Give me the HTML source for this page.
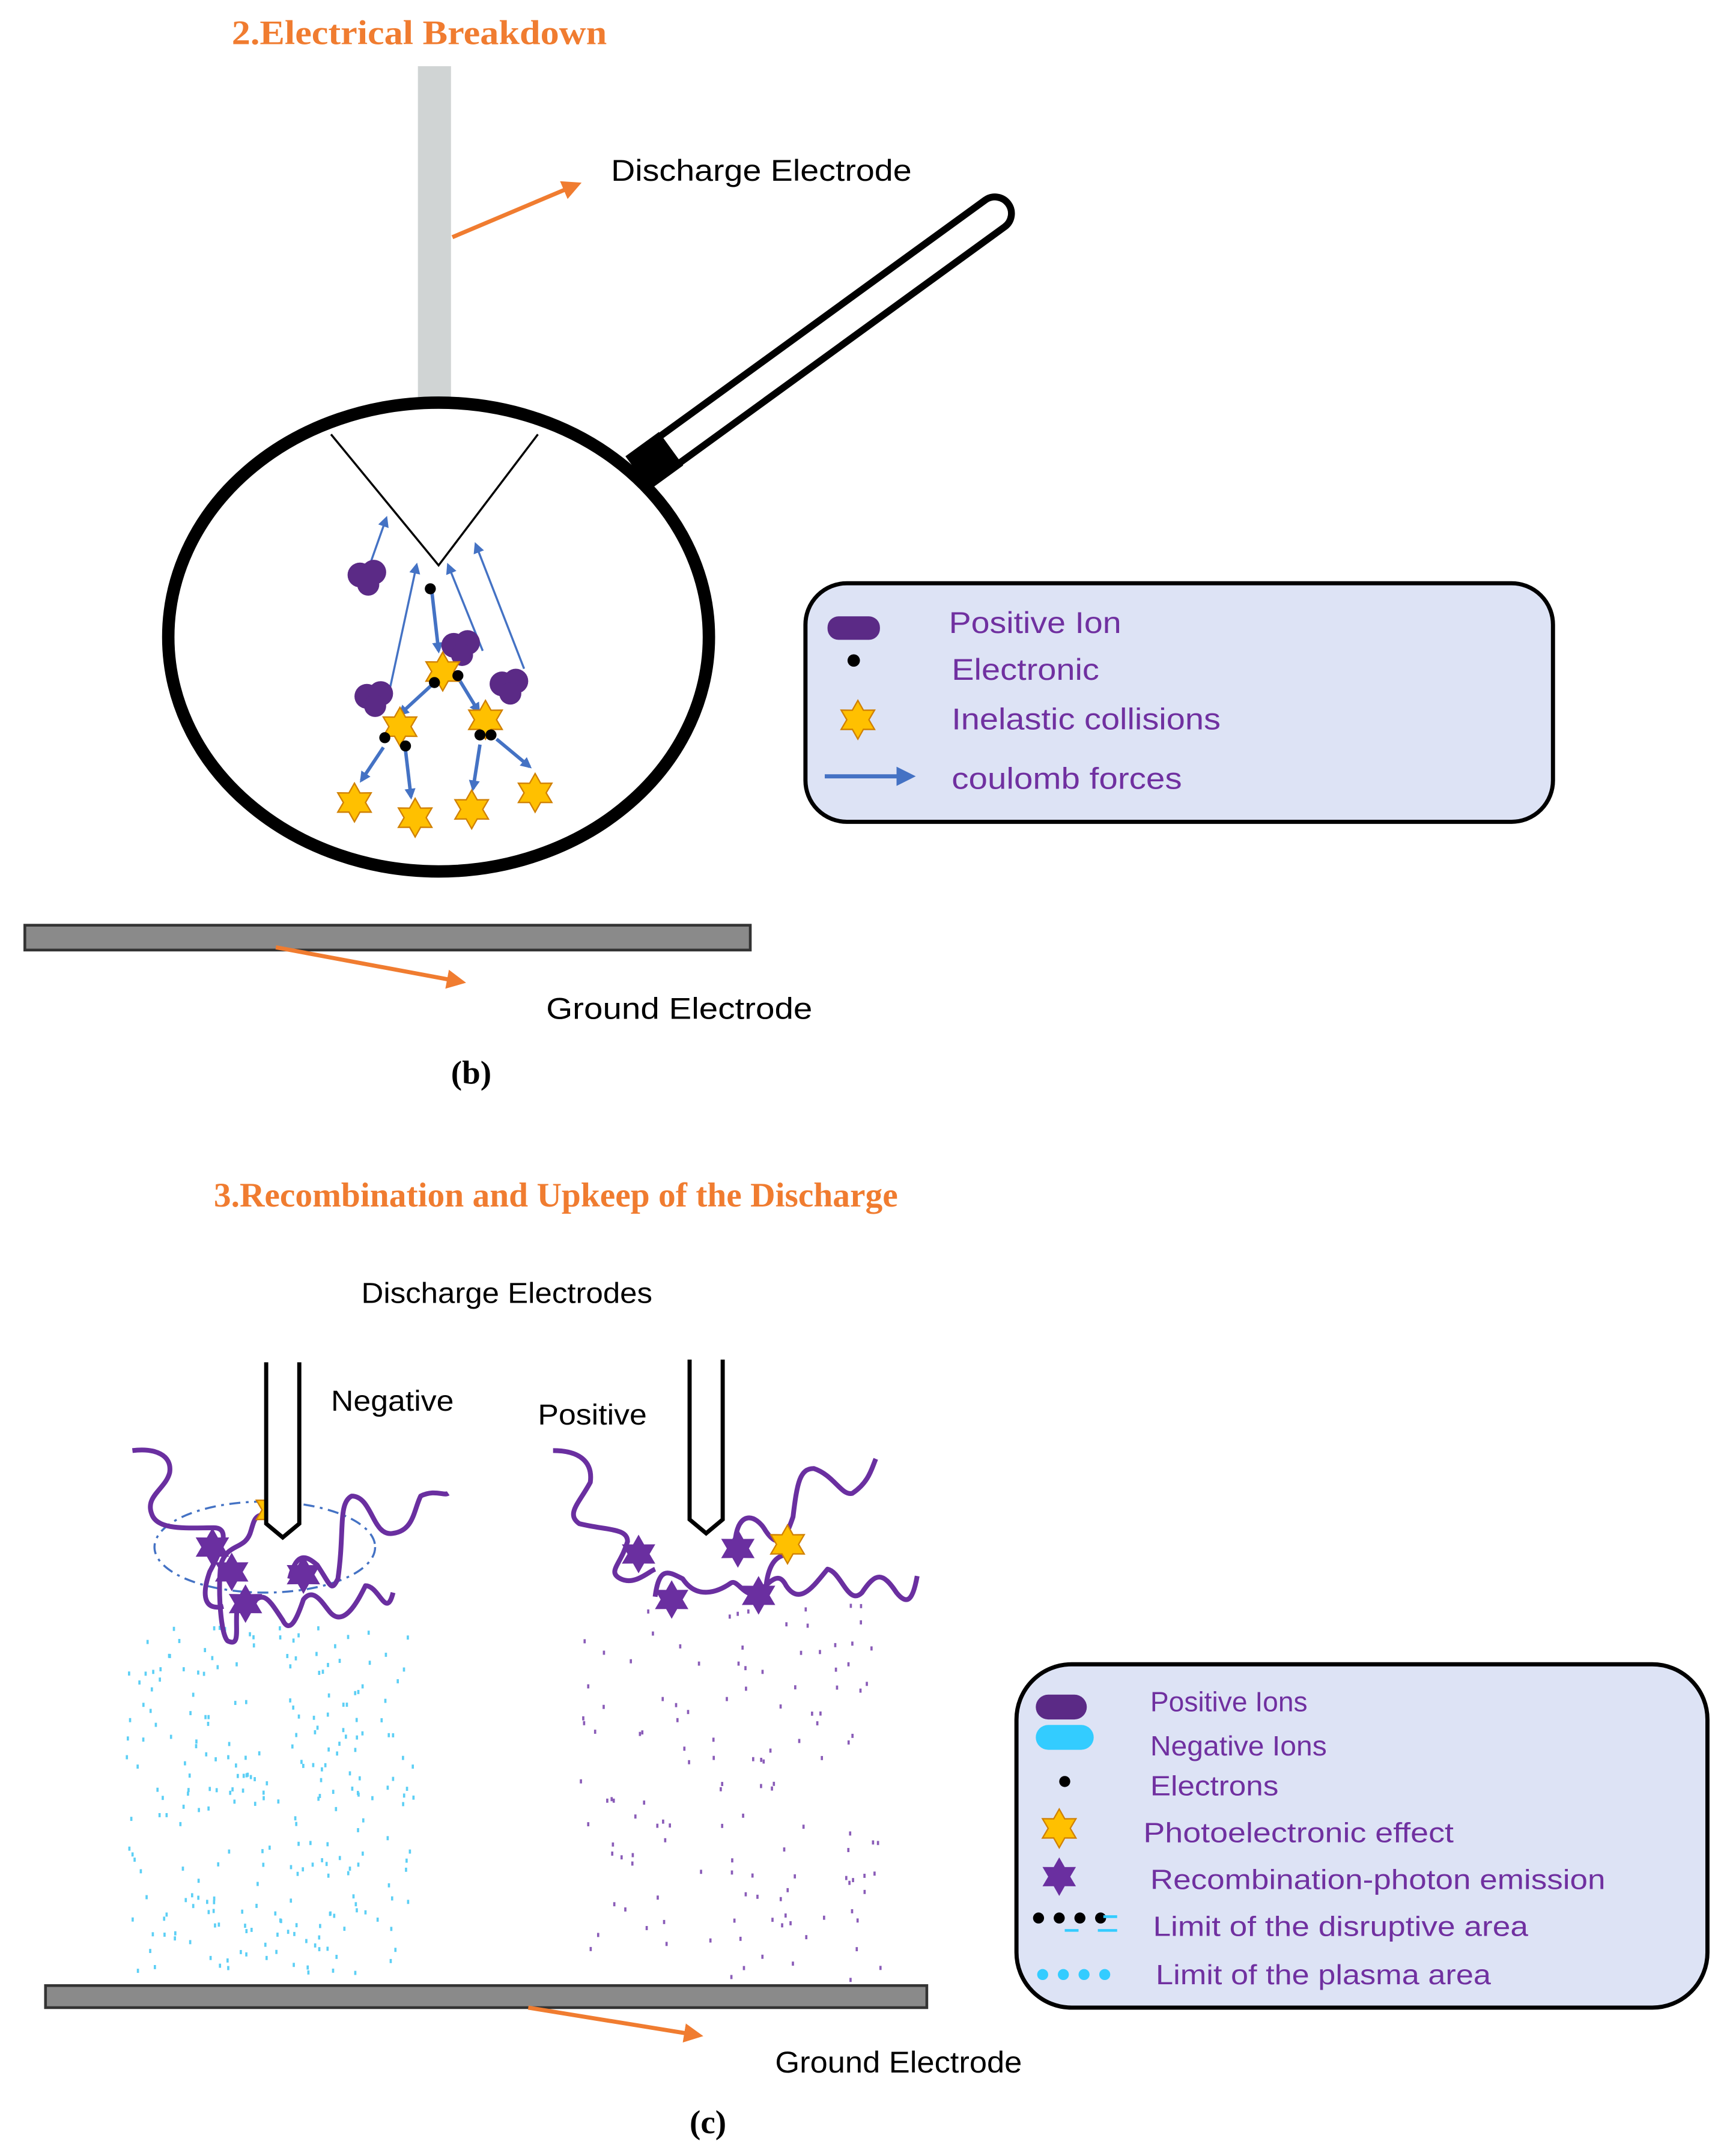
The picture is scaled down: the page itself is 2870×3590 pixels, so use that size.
<!DOCTYPE html>
<html><head><meta charset="utf-8"><style>
html,body{margin:0;padding:0;background:#fff;}
svg{display:block;}
.t{font-family:"Liberation Sans","DejaVu Sans",sans-serif;}
.ti{font-family:"Liberation Serif",serif;font-weight:bold;fill:#f07c30;font-size:25px;}
.lg{font-family:"Liberation Sans",sans-serif;fill:#7030a0;font-size:22px;}
.lg2{font-family:"Liberation Sans",sans-serif;fill:#7030a0;font-size:20px;}
</style></head><body>
<svg id="s" width="2870" height="3590" viewBox="0 0 1250 1563.6" xmlns="http://www.w3.org/2000/svg">
<defs>
<polygon id="star" points="0,-14 4,-6.93 12.12,-7 8,0 12.12,7 4,6.93 0,14 -4,6.93 -12.12,7 -8,0 -12.12,-7 -4,-6.93"/>
<g id="ion"><circle cx="-6" cy="-2" r="9" fill="#5b2a86"/><circle cx="4" cy="-4" r="9" fill="#5b2a86"/><circle cx="0" cy="5" r="8" fill="#5b2a86"/></g>
<marker id="ab" markerWidth="8" markerHeight="8" refX="6" refY="4" orient="auto" markerUnits="userSpaceOnUse"><path d="M0,0 L8,4 L0,8 z" fill="#4472c4"/></marker>
<marker id="ab2" markerWidth="14" markerHeight="14" refX="10" refY="7" orient="auto" markerUnits="userSpaceOnUse"><path d="M0,0 L14,7 L0,14 z" fill="#4472c4"/></marker>
<marker id="ao" markerWidth="14" markerHeight="14" refX="10" refY="7" orient="auto" markerUnits="userSpaceOnUse"><path d="M0,0 L14,7 L0,14 z" fill="#f07c30"/></marker>
</defs>

<!-- Part b -->
<text class="ti" x="168" y="32" textLength="272" lengthAdjust="spacingAndGlyphs">2.Electrical Breakdown</text>
<rect x="303" y="48" width="24" height="250" fill="#d0d4d4"/>
<line x1="328" y1="172" x2="418" y2="134" stroke="#f07c30" stroke-width="3" marker-end="url(#ao)"/>
<text class="t" x="443" y="131" font-size="22" textLength="218" lengthAdjust="spacingAndGlyphs">Discharge Electrode</text>

<!-- handle -->
<g transform="translate(600,243) rotate(-36)">
<rect x="-162" y="-12" width="324" height="24" rx="12" fill="none" stroke="#000" stroke-width="5"/>
</g>
<g transform="translate(472,336) rotate(-36)"><rect x="-12" y="-15" width="30" height="30" fill="#000"/></g>
<ellipse cx="318" cy="462" rx="196" ry="170" fill="#fff" stroke="#000" stroke-width="9"/>
<polyline points="240,315 318,410 390,315" fill="none" stroke="#000" stroke-width="1.5"/>

<g stroke="#4472c4" fill="none">
<line x1="268" y1="410" x2="280" y2="376" stroke-width="1.5" marker-end="url(#ab)"/>
<line x1="283" y1="498" x2="302" y2="410" stroke-width="1.5" marker-end="url(#ab)"/>
<line x1="350" y1="472" x2="325" y2="410" stroke-width="1.5" marker-end="url(#ab)"/>
<line x1="380" y1="485" x2="345" y2="395" stroke-width="1.5" marker-end="url(#ab)"/>
<line x1="313" y1="428" x2="318" y2="472" stroke-width="2.5" marker-end="url(#ab)"/>
<line x1="315" y1="495" x2="290" y2="518" stroke-width="2.5" marker-end="url(#ab)"/>
<line x1="333" y1="493" x2="347" y2="516" stroke-width="2.5" marker-end="url(#ab)"/>
<line x1="278" y1="542" x2="262" y2="566" stroke-width="2.5" marker-end="url(#ab)"/>
<line x1="294" y1="544" x2="298" y2="578" stroke-width="2.5" marker-end="url(#ab)"/>
<line x1="348" y1="540" x2="343" y2="572" stroke-width="2.5" marker-end="url(#ab)"/>
<line x1="360" y1="536" x2="384" y2="556" stroke-width="2.5" marker-end="url(#ab)"/>
</g>
<use href="#ion" x="267" y="419"/>
<use href="#ion" x="335" y="470"/>
<use href="#ion" x="272" y="507"/>
<use href="#ion" x="370" y="498"/>
<g fill="#ffc000" stroke="#d08000" stroke-width="1">
<use href="#star" x="321" y="487"/>
<use href="#star" x="290" y="527"/>
<use href="#star" x="352" y="522"/>
<use href="#star" x="257" y="582"/>
<use href="#star" x="301" y="593"/>
<use href="#star" x="342" y="587"/>
<use href="#star" x="388" y="575"/>
</g>
<g fill="#000">
<circle cx="312" cy="427" r="4"/><circle cx="315" cy="495" r="4"/><circle cx="332" cy="490" r="4"/>
<circle cx="279" cy="535" r="4"/><circle cx="294" cy="541" r="4"/><circle cx="348" cy="533" r="4"/><circle cx="356" cy="533" r="4"/>
</g>

<rect x="584" y="423" width="542" height="173" rx="30" fill="#dde3f5" stroke="#000" stroke-width="3"/>
<rect x="600" y="447" width="38" height="17" rx="8" fill="#5b2a86"/>
<circle cx="619" cy="479" r="4.5" fill="#000"/>
<use href="#star" x="622" y="522" fill="#ffc000" stroke="#d08000"/>
<line x1="598" y1="563" x2="660" y2="563" stroke="#4472c4" stroke-width="3" marker-end="url(#ab2)"/>
<text class="lg" x="688" y="459" textLength="125" lengthAdjust="spacingAndGlyphs">Positive Ion</text>
<text class="lg" x="690" y="493" textLength="107" lengthAdjust="spacingAndGlyphs">Electronic</text>
<text class="lg" x="690" y="529" textLength="195" lengthAdjust="spacingAndGlyphs">Inelastic collisions</text>
<text class="lg" x="690" y="572" textLength="167" lengthAdjust="spacingAndGlyphs">coulomb forces</text>

<rect x="18" y="671" width="526" height="18" fill="#8a8a8a" stroke="#333" stroke-width="2"/>
<line x1="200" y1="687" x2="334" y2="712" stroke="#f07c30" stroke-width="3" marker-end="url(#ao)"/>
<text class="t" x="396" y="739" font-size="22" textLength="193" lengthAdjust="spacingAndGlyphs">Ground Electrode</text>
<text x="327" y="786" font-family="Liberation Serif,serif" font-weight="bold" font-size="24">(b)</text>

<!-- Part c -->
<text class="ti" x="155" y="875" textLength="496" lengthAdjust="spacingAndGlyphs">3.Recombination and Upkeep of the Discharge</text>
<text class="t" x="262" y="945" font-size="21" textLength="211" lengthAdjust="spacingAndGlyphs">Discharge Electrodes</text>
<text class="t" x="240" y="1023" font-size="21" textLength="89" lengthAdjust="spacingAndGlyphs">Negative</text>
<text class="t" x="390" y="1033" font-size="21" textLength="79" lengthAdjust="spacingAndGlyphs">Positive</text>

<g id="dots"></g>

<ellipse cx="192" cy="1122" rx="80" ry="33" fill="none" stroke="#4472c4" stroke-width="1.5" stroke-dasharray="8,4,2,4"/>

<g fill="none" stroke="#6a2fa0" stroke-width="3.5" stroke-linejoin="round">
<path d="M96,1052 C112,1050 125,1055 123,1068 C120,1080 105,1085 110,1098 C114,1110 135,1108 155,1108 C168,1108 160,1125 152,1140 C145,1160 150,1168 162,1165"/>
<path d="M198,1098 C185,1098 185,1100 182,1110 C178,1125 165,1118 160,1135 C158,1155 160,1185 165,1190 C175,1195 170,1180 172,1165"/>
<path d="M210,1145 C215,1125 222,1128 230,1135 C240,1150 240,1155 245,1145 C250,1110 245,1090 255,1085 C270,1085 270,1115 285,1112 C300,1110 300,1095 305,1085 C315,1080 322,1085 325,1083"/>
<path d="M180,1168 C190,1150 195,1160 205,1175 C210,1185 215,1175 220,1160 C228,1150 235,1165 240,1170 C250,1180 260,1160 265,1150 C275,1150 280,1175 285,1155"/>
<path d="M401,1052 C420,1052 430,1060 428,1075 C420,1090 410,1098 420,1105 C440,1110 455,1108 455,1118 C450,1135 440,1140 450,1145 C460,1150 470,1140 475,1138"/>
<path d="M533,1118 C535,1095 548,1098 555,1110 C565,1125 570,1115 575,1100 C578,1075 580,1065 590,1065 C605,1070 610,1085 618,1083 C630,1075 632,1065 635,1058"/>
<path d="M475,1158 C478,1135 485,1140 495,1145 C505,1160 520,1155 530,1148 C535,1145 540,1160 550,1155 C560,1145 565,1140 570,1150 C580,1165 590,1150 600,1138 C610,1140 615,1165 625,1155 C635,1140 640,1140 650,1155 C658,1165 662,1160 665,1143"/>
<path d="M555,1160 C555,1140 560,1130 568,1128"/>
</g>
<g fill="#6a2fa0">
<use href="#star" x="154" y="1122"/>
<use href="#star" x="168" y="1140"/>
<use href="#star" x="220" y="1142"/>
<use href="#star" x="178" y="1163"/>
<use href="#star" x="463" y="1127"/>
<use href="#star" x="535" y="1123"/>
<use href="#star" x="487" y="1160"/>
<use href="#star" x="550" y="1157"/>
</g>
<g fill="#ffc000" stroke="#d08000"><use href="#star" x="198" y="1095"/><use href="#star" x="571" y="1120"/></g>

<path d="M193,988 V1105 L205,1115 L217,1105 V988" fill="#fff" stroke="#000" stroke-width="3"/>
<path d="M500,986 V1102 L512,1112 L524,1102 V986" fill="#fff" stroke="#000" stroke-width="3"/>

<rect x="737" y="1207" width="501" height="249" rx="40" fill="#dde3f5" stroke="#000" stroke-width="3"/>
<rect x="751" y="1229" width="37" height="18" rx="9" fill="#5b2a86"/>
<rect x="751" y="1251" width="42" height="18" rx="9" fill="#33ccff"/>
<circle cx="772" cy="1292" r="4" fill="#000"/>
<use href="#star" x="768" y="1326" fill="#ffc000" stroke="#d08000"/>
<use href="#star" x="768" y="1361" fill="#6a2fa0"/>
<g fill="#000"><circle cx="753" cy="1391" r="4"/><circle cx="768" cy="1391" r="4"/><circle cx="783" cy="1391" r="4"/><circle cx="798" cy="1391" r="4"/></g>
<g stroke="#33ccff" stroke-width="2"><line x1="772" y1="1400" x2="782" y2="1400"/><line x1="796" y1="1400" x2="810" y2="1400"/><line x1="800" y1="1390" x2="810" y2="1390"/></g>
<g fill="#33ccff"><circle cx="756" cy="1432" r="4"/><circle cx="771" cy="1432" r="4"/><circle cx="786" cy="1432" r="4"/><circle cx="801" cy="1432" r="4"/></g>
<text class="lg2" x="834" y="1241" textLength="114" lengthAdjust="spacingAndGlyphs">Positive Ions</text>
<text class="lg2" x="834" y="1273" textLength="128" lengthAdjust="spacingAndGlyphs">Negative Ions</text>
<text class="lg2" x="834" y="1302" textLength="93" lengthAdjust="spacingAndGlyphs">Electrons</text>
<text class="lg2" x="829" y="1336" textLength="225" lengthAdjust="spacingAndGlyphs">Photoelectronic effect</text>
<text class="lg2" x="834" y="1370" textLength="330" lengthAdjust="spacingAndGlyphs">Recombination-photon emission</text>
<text class="lg2" x="836" y="1404" textLength="272" lengthAdjust="spacingAndGlyphs">Limit of the disruptive area</text>
<text class="lg2" x="838" y="1439" textLength="243" lengthAdjust="spacingAndGlyphs">Limit of the plasma area</text>

<rect x="33" y="1440" width="639" height="16" fill="#8a8a8a" stroke="#333" stroke-width="2"/>
<line x1="383" y1="1456" x2="506" y2="1476" stroke="#f07c30" stroke-width="3" marker-end="url(#ao)"/>
<text class="t" x="562" y="1503" font-size="22" textLength="179" lengthAdjust="spacingAndGlyphs">Ground Electrode</text>
<text x="500" y="1547" font-family="Liberation Serif,serif" font-weight="bold" font-size="24">(c)</text>
</svg>
<script>
(function(){
var g=document.getElementById('dots');var s=12345;
function r(){s=(s*1103515245+12345)%2147483648;return s/2147483648;}
var h='';
for(var i=0;i<260;i++){var x=90+r()*210,y=1178+r()*252;h+='<rect x="'+x.toFixed(1)+'" y="'+y.toFixed(1)+'" width="1.6" height="3" fill="#5ccff5"/>';}
for(var i=0;i<130;i++){var x=420+r()*220,y=1160+r()*275;h+='<rect x="'+x.toFixed(1)+'" y="'+y.toFixed(1)+'" width="1.6" height="3" fill="#8a5cb8"/>';}
g.innerHTML=h;
})();
</script>
</body></html>
